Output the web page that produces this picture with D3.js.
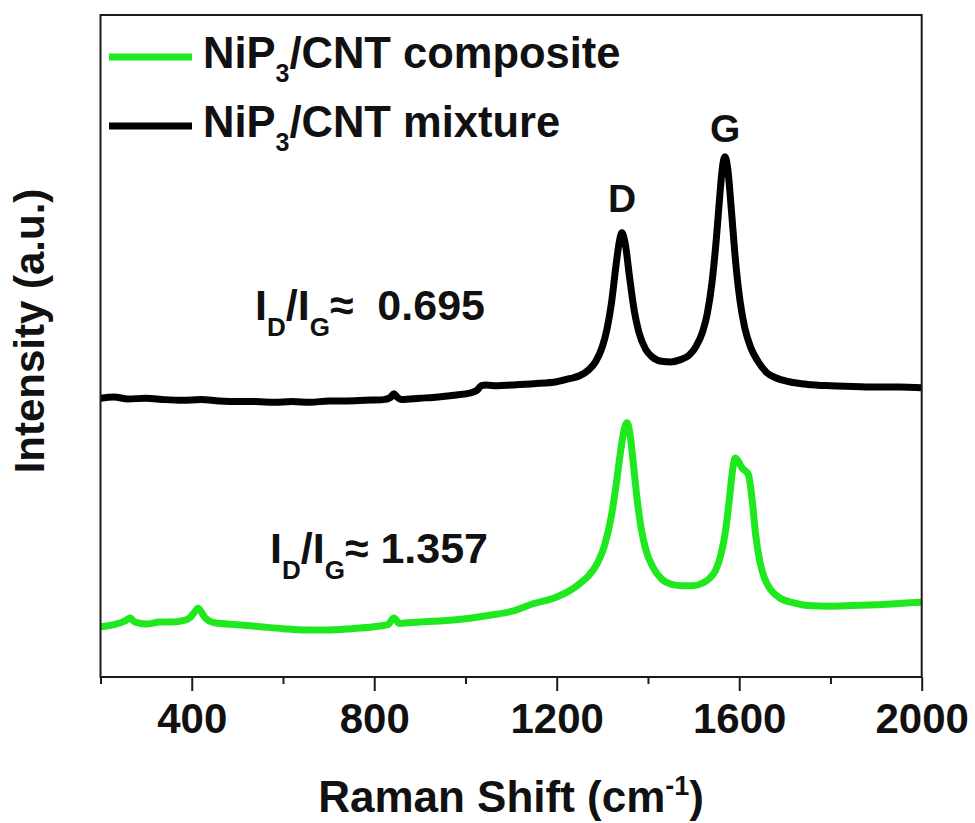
<!DOCTYPE html>
<html>
<head>
<meta charset="utf-8">
<script src="https://cdn.jsdelivr.net/npm/d3@7"></script>
<style>
  html, body { margin: 0; padding: 0; background: #fff; }
  svg text { font-family: "Liberation Sans", Arial, Helvetica, sans-serif; font-weight: bold; fill: #111; }
</style>
</head>
<body>
<svg id="chart" width="975" height="823"></svg>
<script>
// Raman spectra of NiP3/CNT samples (intensity in arbitrary units, curves offset vertically)
const shiftMixture = [200,230,260,300,340,380,420,460,500,540,580,620,660,700,740,780,820,835,843,850,860,900,940,980,1010,1025,1035,1045,1070,1100,1150,1200,1230,1250,1270,1285,1300,1310,1320,1330,1337,1343,1350,1360,1370,1380,1395,1410,1430,1450,1470,1490,1505,1520,1530,1540,1550,1558,1564,1569,1575,1583,1592,1602,1612,1625,1640,1660,1680,1710,1750,1800,1850,1900,1950,2000];
const intensityMixture = [42.1,42.3,42.0,42.1,41.9,41.8,41.9,41.7,41.6,41.6,41.5,41.6,41.5,41.7,41.7,41.8,41.9,42.2,42.8,42.3,41.9,42.1,42.3,42.6,42.9,43.3,44.0,44.1,44.0,44.1,44.3,44.6,45.1,45.5,46.4,47.6,49.9,52.5,56.5,62.2,65.7,67.1,65.5,60.2,55.3,52.1,49.5,48.3,47.7,47.6,47.9,48.6,49.9,52.2,54.9,59.4,66.3,73.2,77.4,78.6,76.7,70.4,62.8,56.7,52.8,49.8,47.8,46.0,45.2,44.6,44.2,44.0,43.9,43.8,43.8,43.7];

const shiftComposite = [200,230,255,265,275,300,330,360,380,395,405,414,420,430,450,500,550,600,650,700,750,800,830,843,855,900,950,1000,1050,1100,1150,1200,1230,1250,1270,1290,1305,1320,1330,1340,1348,1354,1360,1368,1376,1385,1395,1410,1430,1452,1475,1500,1520,1535,1548,1560,1570,1578,1585,1591,1598,1606,1614,1620,1628,1636,1645,1655,1670,1690,1720,1750,1800,1850,1900,1950,2000];
const intensityComposite = [7.6,7.9,8.5,8.9,8.3,8.0,8.3,8.3,8.5,8.9,9.7,10.4,9.9,8.9,8.2,7.9,7.6,7.3,7.1,7.1,7.3,7.6,7.9,8.9,8.1,8.3,8.5,8.8,9.3,9.9,11.1,12.1,13.1,14.1,15.3,17.3,19.9,24.4,28.9,34.1,37.4,38.4,37.0,32.2,27.0,22.5,19.3,16.7,14.8,14.0,13.8,13.8,14.2,14.9,16.1,18.5,22.1,26.6,31.0,33.1,32.6,31.6,31.1,30.6,27.0,21.5,17.5,15.0,13.1,11.9,11.2,10.8,10.7,10.8,10.9,11.1,11.3];

const majorTicks = [400, 800, 1200, 1600, 2000];
const minorTicks = [200, 600, 1000, 1400, 1800];
const seriesNames = ["composite", "mixture"];
const seriesColors = ["#1fe81f", "#000000"];
const ratioLabels = ["0.695", "1.357"];

const svg = d3.select("#chart");
const plotLeft = 100.5, plotRight = 921.7, plotTop = 15, plotBottom = 677;

const x = d3.scaleLinear().domain([200, 2000]).range([plotLeft, plotRight]);
const y = d3.scaleLinear().domain([0, 100]).range([plotBottom, plotTop]);

svg.append("defs").append("clipPath").attr("id", "plot-clip")
  .append("rect").attr("x", plotLeft).attr("y", plotTop)
  .attr("width", plotRight - plotLeft).attr("height", plotBottom - plotTop);

const line = d3.line()
  .x(d => x(d[0])).y(d => y(d[1]))
  .curve(d3.curveMonotoneX);

const mixture = shiftMixture.map((s, i) => [s, intensityMixture[i]]);
const composite = shiftComposite.map((s, i) => [s, intensityComposite[i]]);

const plot = svg.append("g").attr("clip-path", "url(#plot-clip)");
plot.append("path").datum(composite).attr("d", line)
  .attr("fill", "none").attr("stroke", seriesColors[0])
  .attr("stroke-width", 7).attr("stroke-linejoin", "round");
plot.append("path").datum(mixture).attr("d", line)
  .attr("fill", "none").attr("stroke", seriesColors[1])
  .attr("stroke-width", 7).attr("stroke-linejoin", "round");

// frame
svg.append("rect").attr("x", plotLeft).attr("y", plotTop)
  .attr("width", plotRight - plotLeft).attr("height", plotBottom - plotTop)
  .attr("fill", "none").attr("stroke", "#1a1a1a").attr("stroke-width", 2);

// bottom axis: major ticks with labels, minor ticks without
const axisMajor = d3.axisBottom(x).tickValues(majorTicks).tickSize(14).tickPadding(6).tickFormat(d3.format("d"));
const gMajor = svg.append("g").attr("transform", `translate(0,${plotBottom})`).call(axisMajor);
gMajor.select(".domain").remove();
gMajor.selectAll(".tick line").attr("stroke", "#1a1a1a").attr("stroke-width", 2);
gMajor.selectAll(".tick text").attr("font-size", 42).attr("dy", null).attr("y", 56)
  .style("font-family", "'Liberation Sans', Arial, sans-serif").style("font-weight", "bold").attr("fill", "#111");

const axisMinor = d3.axisBottom(x).tickValues(minorTicks).tickSize(7).tickFormat("");
const gMinor = svg.append("g").attr("transform", `translate(0,${plotBottom})`).call(axisMinor);
gMinor.select(".domain").remove();
gMinor.selectAll(".tick line").attr("stroke", "#1a1a1a").attr("stroke-width", 2);

// axis titles
const xt = svg.append("text").attr("x", (plotLeft + plotRight) / 2).attr("y", 812)
  .attr("text-anchor", "middle").attr("font-size", 44);
xt.append("tspan").text("Raman Shift (cm");
xt.append("tspan").attr("font-size", 27).attr("dy", -17).text("-1");
xt.append("tspan").attr("dy", 17).text(")");

svg.append("text").attr("transform", "translate(44,331) rotate(-90)")
  .attr("text-anchor", "middle").attr("font-size", 42).text("Intensity (a.u.)");

// legend
const legendRows = [{y: 57, base: 68}, {y: 126, base: 137}];
seriesNames.forEach((name, i) => {
  svg.append("line").attr("x1", 109).attr("x2", 192)
    .attr("y1", legendRows[i].y).attr("y2", legendRows[i].y)
    .attr("stroke", seriesColors[i]).attr("stroke-width", 7);
  const t = svg.append("text").attr("x", 203).attr("y", legendRows[i].base).attr("font-size", 43.5);
  t.append("tspan").text("NiP");
  t.append("tspan").attr("font-size", 25).attr("dy", 14).text("3");
  t.append("tspan").attr("dy", -14).text("/CNT " + name);
});

// peak labels
svg.append("text").attr("x", x(1343)).attr("y", 212).attr("text-anchor", "middle").attr("font-size", 39).text("D");
svg.append("text").attr("x", x(1569)).attr("y", 142).attr("text-anchor", "middle").attr("font-size", 39).text("G");

// intensity ratio labels
function ratioLabel(px, py, spacer, value) {
  const t = svg.append("text").attr("x", px).attr("y", py).attr("font-size", 43);
  t.append("tspan").text("I");
  t.append("tspan").attr("font-size", 26).attr("dy", 16).text("D");
  t.append("tspan").attr("dy", -16).text("/I");
  t.append("tspan").attr("font-size", 26).attr("dy", 16).text("G");
  t.append("tspan").attr("dy", -16).text("\u2248" + spacer + value);
}
ratioLabel(255, 320, "\u00a0\u00a0", ratioLabels[0]);
ratioLabel(270, 563, "\u00a0", ratioLabels[1]);
</script>
</body>
</html>
